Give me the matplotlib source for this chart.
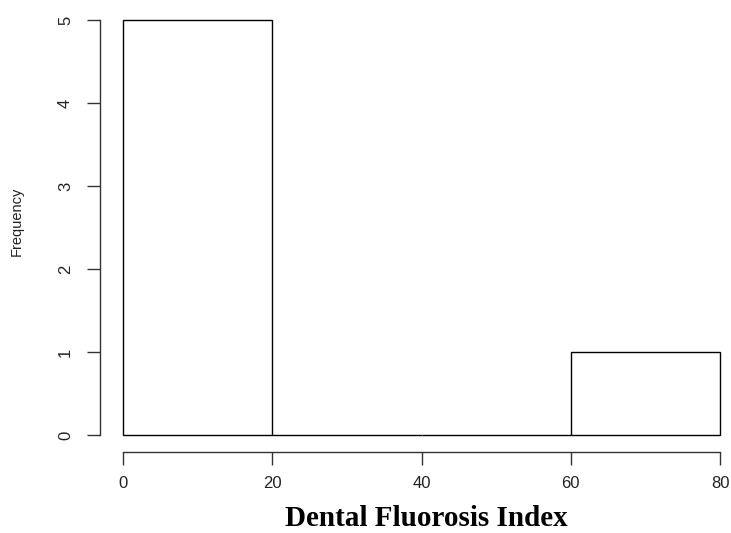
import numpy as np
import matplotlib
matplotlib.use("Agg")
import matplotlib.pyplot as plt

# histogram of dental fluorosis index (R-style hist)
bin_edges = [0, 20, 40, 60, 80]
counts = [5, 0, 0, 1]
x_ticks = [0, 20, 40, 60, 80]
y_ticks = [0, 1, 2, 3, 4, 5]

W, H = 731, 533
fig = plt.figure(figsize=(W / 100, H / 100), dpi=100)
ax = fig.add_axes([123 / W, (H - 435) / H, (720 - 123) / W, (435 - 20) / H])

lefts = np.array(bin_edges[:-1])
widths = np.diff(bin_edges)
ax.bar(lefts, counts, width=widths, align="edge", facecolor="white",
       edgecolor="black", linewidth=1.0, clip_on=False)

ax.set_xlim(0, 80)
ax.set_ylim(0, 5)

for s in ["top", "right"]:
    ax.spines[s].set_visible(False)
ax.spines["left"].set_position(("outward", 23 * 0.72))
ax.spines["bottom"].set_position(("outward", 17 * 0.72))
ax.spines["left"].set_bounds(0, 5)
ax.spines["bottom"].set_bounds(0, 80)
for s in ["left", "bottom"]:
    ax.spines[s].set_color("#333333")
    ax.spines[s].set_linewidth(1.0)

ax.set_xticks(x_ticks)
ax.set_yticks(y_ticks)
ax.tick_params(axis="both", length=9.5, width=1.0, color="#333333",
               labelsize=12, labelcolor="#222222")
ax.tick_params(axis="x", pad=8)
ax.tick_params(axis="y", pad=10)
for lab in ax.get_yticklabels():
    lab.set_rotation(90)
    lab.set_va("center")
for lab in ax.get_xticklabels() + ax.get_yticklabels():
    lab.set_family("Liberation Sans")

fig.text(17 / W, 1 - 221 / H, "Frequency", rotation=90, ha="center", va="center",
         fontsize=10.5, family="Liberation Sans", color="#222222")
fig.text(426 / W, 1 - 526 / H, "Dental Fluorosis Index", ha="center", va="baseline",
         fontsize=21, family="Liberation Serif", fontweight="bold")

fig.savefig("out.png", dpi=100)
